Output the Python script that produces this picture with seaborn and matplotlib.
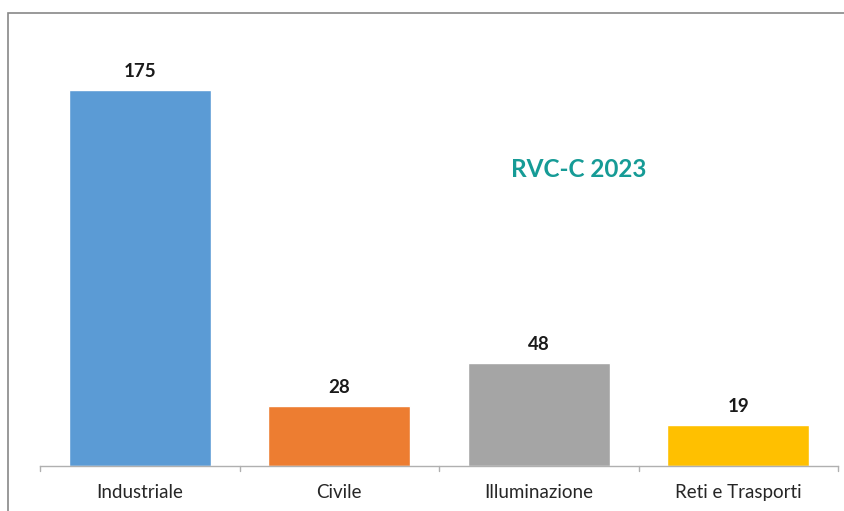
import pandas as pd
import seaborn as sns
import matplotlib.pyplot as plt
from matplotlib.patches import Rectangle

# data
categories = ["Industriale", "Civile", "Illuminazione", "Reti e Trasporti"]
values = [175, 28, 48, 19]
bar_colors = ["#5B9BD5", "#ED7D31", "#A5A5A5", "#FFC000"]

df = pd.DataFrame({"categoria": categories, "valore": values})

sns.set_style("white")
plt.rcParams["font.family"] = ["Lato", "DejaVu Sans"]

fig = plt.figure(figsize=(8.44, 5.11), dpi=100)
ax = fig.add_axes([40 / 844, 45 / 511, 798 / 844, 430 / 511])

sns.barplot(
    data=df,
    x="categoria",
    y="valore",
    hue="categoria",
    palette=dict(zip(categories, bar_colors)),
    order=categories,
    width=0.71,
    saturation=1,
    legend=False,
    ax=ax,
)

# value labels above bars
for cont in ax.containers:
    ax.bar_label(cont, fmt="%d", padding=7, fontsize=13.5, fontweight="bold", color="#1A1A1A")

ax.set_ylim(0, 200)
ax.set_xlim(-0.5, len(categories) - 0.5)
ax.set_xlabel("")
ax.set_ylabel("")
ax.set_yticks([])
ax.tick_params(axis="x", labelsize=13.5, colors="#262626", length=0, pad=13)

for s in ["top", "right", "left"]:
    ax.spines[s].set_visible(False)
ax.spines["bottom"].set_color("#B0B0B0")
ax.spines["bottom"].set_linewidth(1)

# tick marks between categories
for xb in [i - 0.5 for i in range(len(categories) + 1)]:
    ax.plot([xb, xb], [0, -2.2], color="#B0B0B0", lw=1, clip_on=False)

ax.text(2.2, 138, "RVC-C 2023", ha="center", va="center",
        fontsize=17.5, fontweight="bold", color="#169B96")

# outer chart frame (partially cropped in the reference)
fig.patches.append(Rectangle((8 / 844, -0.1), 1.2, (511 - 13) / 511 + 0.1,
                             transform=fig.transFigure, fill=False,
                             edgecolor="#888888", lw=1.2))

fig.savefig("out.png", dpi=100)
